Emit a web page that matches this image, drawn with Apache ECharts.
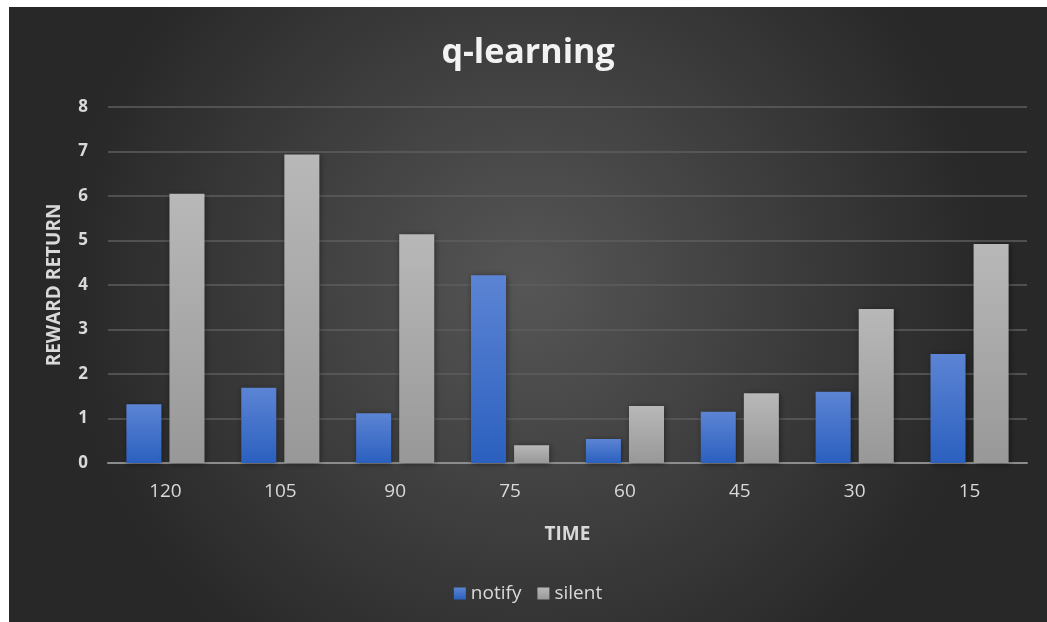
<!DOCTYPE html>
<html>
<head>
<meta charset="utf-8">
<script src="https://cdn.jsdelivr.net/npm/echarts@6/dist/echarts.min.js"></script>
<style>
  html, body { margin: 0; padding: 0; background: #ffffff; }
  #frame { position: absolute; left: 9px; top: 7px; width: 1038px; height: 615px; }
  #chart { width: 100%; height: 100%; }
</style>
</head>
<body>
<div id="frame"><div id="chart"></div></div>
<script>
// Time steps (category axis) and reward returns per policy
const categories = ['120', '105', '90', '75', '60', '45', '30', '15'];
const notifyValues = [1.32, 1.69, 1.12, 4.22, 0.54, 1.15, 1.60, 2.45];
const silentValues = [6.05, 6.93, 5.14, 0.40, 1.28, 1.57, 3.46, 4.92];
const yTicks = [0, 1, 2, 3, 4, 5, 6, 7, 8];

const font = '"Open Sans", Lato, sans-serif';
const textColor = '#d9d9d9';
const chart = echarts.init(document.getElementById('chart'));

const blueFill = new echarts.graphic.LinearGradient(0, 0, 0, 1, [
  { offset: 0, color: '#5c84d4' },
  { offset: 1, color: '#2b60bf' }
]);
const grayFill = new echarts.graphic.LinearGradient(0, 0, 0, 1, [
  { offset: 0, color: '#b8b8b8' },
  { offset: 1, color: '#989898' }
]);
const barShadow = {
  shadowColor: 'rgba(0,0,0,0.45)',
  shadowBlur: 6,
  shadowOffsetX: 1,
  shadowOffsetY: 1
};

chart.setOption({
  backgroundColor: new echarts.graphic.RadialGradient(0.5, 0.45, 0.75, [
    { offset: 0, color: '#565656' },
    { offset: 1, color: '#282828' }
  ]),
  animation: false,
  title: {
    text: 'q-learning',
    left: 'center',
    top: 24,
    textStyle: { color: '#f2f2f2', fontSize: 34, fontWeight: 'bold', fontFamily: font }
  },
  legend: {
    bottom: 14,
    left: 'center',
    itemWidth: 12,
    itemHeight: 12,
    itemGap: 16,
    icon: 'rect',
    textStyle: { color: textColor, fontSize: 19, fontFamily: font },
    data: ['notify', 'silent']
  },
  grid: { left: 99, right: 20, top: 100, bottom: 159 },
  xAxis: {
    type: 'category',
    data: categories,
    name: 'TIME',
    nameLocation: 'middle',
    nameGap: 62,
    nameTextStyle: { color: textColor, fontSize: 19, fontWeight: 'bold', fontFamily: font },
    axisLine: { lineStyle: { color: '#8c8c8c', width: 2 } },
    axisTick: { show: false },
    axisLabel: { color: textColor, fontSize: 19, margin: 19, fontFamily: font }
  },
  yAxis: {
    type: 'value',
    min: 0,
    max: yTicks[yTicks.length - 1],
    interval: 1,
    name: 'REWARD RETURN',
    nameLocation: 'middle',
    nameGap: 44,
    nameTextStyle: { color: textColor, fontSize: 19, fontWeight: 'bold', fontFamily: font },
    axisLine: { show: false },
    axisTick: { show: false },
    axisLabel: { color: textColor, fontSize: 17, margin: 20, fontWeight: 'bold', fontFamily: font },
    splitLine: { lineStyle: { color: '#5e5e5e', width: 1.5 } }
  },
  series: [
    {
      name: 'notify',
      type: 'bar',
      data: notifyValues,
      barGap: '23%',
      barCategoryGap: '32%',
      itemStyle: Object.assign({ color: blueFill }, barShadow)
    },
    {
      name: 'silent',
      type: 'bar',
      data: silentValues,
      itemStyle: Object.assign({ color: grayFill }, barShadow)
    }
  ]
});
</script>
</body>
</html>
